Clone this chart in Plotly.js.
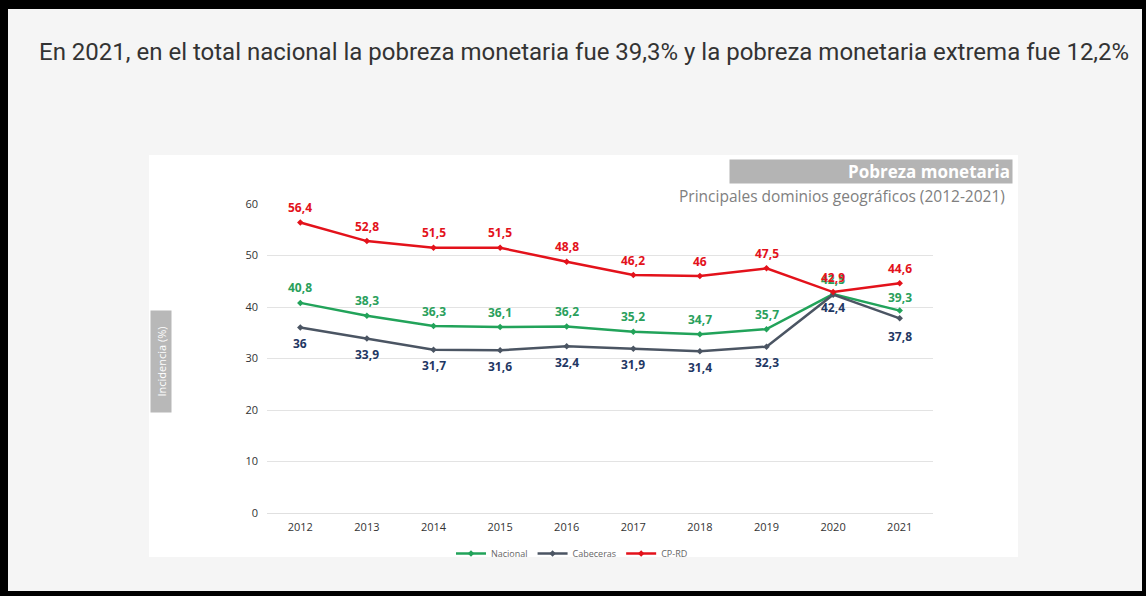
<!DOCTYPE html>
<html>
<head>
<meta charset="utf-8">
<script src="https://cdn.plot.ly/plotly-3.0.1.min.js"></script>
<style>
html,body{margin:0;padding:0;background:#f5f5f5;}
#chart{width:1146px;height:596px;}
</style>
</head>
<body>
<div id="chart"></div>
<script>
// ---- data ----
const years = ['2012','2013','2014','2015','2016','2017','2018','2019','2020','2021'];
const nacional = [40.8, 38.3, 36.3, 36.1, 36.2, 35.2, 34.7, 35.7, 42.5, 39.3];
const cabeceras = [36, 33.9, 31.7, 31.6, 32.4, 31.9, 31.4, 32.3, 42.4, 37.8];
const cprd = [56.4, 52.8, 51.5, 51.5, 48.8, 46.2, 46, 47.5, 42.9, 44.6];
const seriesNames = ['Nacional', 'Cabeceras', 'CP-RD'];
const yTicks = [0, 10, 20, 30, 40, 50, 60];
const titleText = 'En 2021, en el total nacional la pobreza monetaria fue 39,3% y la pobreza monetaria extrema fue 12,2%';
const headerText = 'Pobreza monetaria';
const subtitleText = 'Principales dominios geográficos (2012-2021)';
const yTitleText = 'Incidencia (%)';

// ---- layout helpers (pixel -> paper) ----
const W = 1146, H = 596;
const mL = 267, mR = 213, mT = 204, mB = 83;
const pw = W - mL - mR, ph = H - mT - mB;
const px = v => (v - mL) / pw;
const py = v => (H - mB - v) / ph;

const colNac = '#22a35a', colCab = '#4b5563', colRed = '#e3121b';
const lblNac = '#2aa05c', lblCab = '#1f3864', lblRed = '#e3121b';

function fmt(v){ return String(v).replace('.', ','); }

const traces = [
  {x: years, y: nacional, name: seriesNames[0], type: 'scatter', mode: 'lines+markers',
   line: {color: colNac, width: 2.5}, marker: {color: colNac, size: 5, symbol: 'diamond'}},
  {x: years, y: cabeceras, name: seriesNames[1], type: 'scatter', mode: 'lines+markers',
   line: {color: colCab, width: 2.5}, marker: {color: colCab, size: 5, symbol: 'diamond'}},
  {x: years, y: cprd, name: seriesNames[2], type: 'scatter', mode: 'lines+markers',
   line: {color: colRed, width: 2.5}, marker: {color: colRed, size: 5, symbol: 'diamond'}}
];

const labelFont = (c) => ({family: 'Open Sans, sans-serif', size: 12, color: c});
const annotations = [];
years.forEach((yr, i) => {
  annotations.push({x: i, y: nacional[i], xref: 'x', yref: 'y', text: '<b>' + fmt(nacional[i]) + '</b>', showarrow: false,
    yshift: (i === 9 ? 13 : 15), font: labelFont(lblNac)});
});
years.forEach((yr, i) => {
  annotations.push({x: i, y: cabeceras[i], xref: 'x', yref: 'y', text: '<b>' + fmt(cabeceras[i]) + '</b>', showarrow: false,
    yshift: (i === 8 ? -13 : (i === 9 ? -18 : -16)), font: labelFont(lblCab)});
});
years.forEach((yr, i) => {
  annotations.push({x: i, y: cprd[i], xref: 'x', yref: 'y', text: '<b>' + fmt(cprd[i]) + '</b>', showarrow: false,
    yshift: 15, font: labelFont(lblRed)});
});

// title
annotations.push({xref: 'paper', yref: 'paper', x: px(584), y: py(52), xanchor: 'center', yanchor: 'middle',
  text: titleText, showarrow: false, font: {family: 'Roboto, sans-serif', size: 24, color: '#333333'}});
// header box
annotations.push({xref: 'paper', yref: 'paper', x: px(1013), y: py(171.5), xanchor: 'right', yanchor: 'middle',
  text: '<b>' + headerText + '</b>', showarrow: false, width: 278, height: 19, align: 'right',
  bgcolor: '#b4b4b4', borderpad: 2,
  font: {family: 'Open Sans, sans-serif', size: 17, color: '#ffffff'}});
// subtitle
annotations.push({xref: 'paper', yref: 'paper', x: px(1007), y: py(196), xanchor: 'right', yanchor: 'middle',
  text: subtitleText, showarrow: false,
  font: {family: 'Open Sans, sans-serif', size: 15.5, color: '#808080'}});
// y title box
annotations.push({xref: 'paper', yref: 'paper', x: px(161), y: py(362), xanchor: 'center', yanchor: 'middle',
  text: yTitleText, showarrow: false, textangle: -90, bgcolor: '#b8b8b8', borderpad: 3, height: 14, width: 95,
  font: {family: 'Open Sans, sans-serif', size: 11, color: '#ffffff'}});

const shapes = [
  // white panel
  {type: 'rect', xref: 'paper', yref: 'paper', x0: px(149), x1: px(1018), y0: py(557), y1: py(155),
   fillcolor: '#ffffff', line: {width: 0}, layer: 'below'},
  // black frame
  {type: 'rect', xref: 'paper', yref: 'paper', x0: px(0), x1: px(W), y0: py(0), y1: py(9),
   fillcolor: '#000000', line: {width: 0}},
  {type: 'rect', xref: 'paper', yref: 'paper', x0: px(0), x1: px(W), y0: py(H - 5), y1: py(H),
   fillcolor: '#000000', line: {width: 0}},
  {type: 'rect', xref: 'paper', yref: 'paper', x0: px(0), x1: px(8), y0: py(0), y1: py(H),
   fillcolor: '#000000', line: {width: 0}},
  {type: 'rect', xref: 'paper', yref: 'paper', x0: px(W - 4), x1: px(W), y0: py(0), y1: py(H),
   fillcolor: '#000000', line: {width: 0}}
];

const layout = {
  width: W, height: H,
  margin: {l: mL, r: mR, t: mT, b: mB, pad: 0},
  paper_bgcolor: '#f5f5f5',
  plot_bgcolor: 'rgba(0,0,0,0)',
  showlegend: true,
  legend: {orientation: 'h', x: px(572), xanchor: 'center', y: py(539), yanchor: 'top',
    font: {family: 'Open Sans, sans-serif', size: 9, color: '#666666'}, bgcolor: 'rgba(0,0,0,0)',
    itemwidth: 30, tracegroupgap: 0},
  xaxis: {type: 'category', range: [-0.5, 9.5], showgrid: false, zeroline: false, showline: false,
    ticks: '', tickfont: {family: 'Open Sans, sans-serif', size: 11, color: '#333333'}, ticklabelstandoff: 6},
  yaxis: {range: [0, 60], tickvals: yTicks, showgrid: true, gridcolor: '#e3e3e3', gridwidth: 1,
    zeroline: true, zerolinecolor: '#e0e0e0', showline: false, ticks: '',
    tickfont: {family: 'Open Sans, sans-serif', size: 11, color: '#333333'}, ticklabelstandoff: 8},
  annotations: annotations,
  shapes: shapes
};

Plotly.newPlot('chart', traces, layout, {displayModeBar: false, staticPlot: true});
</script>
</body>
</html>
